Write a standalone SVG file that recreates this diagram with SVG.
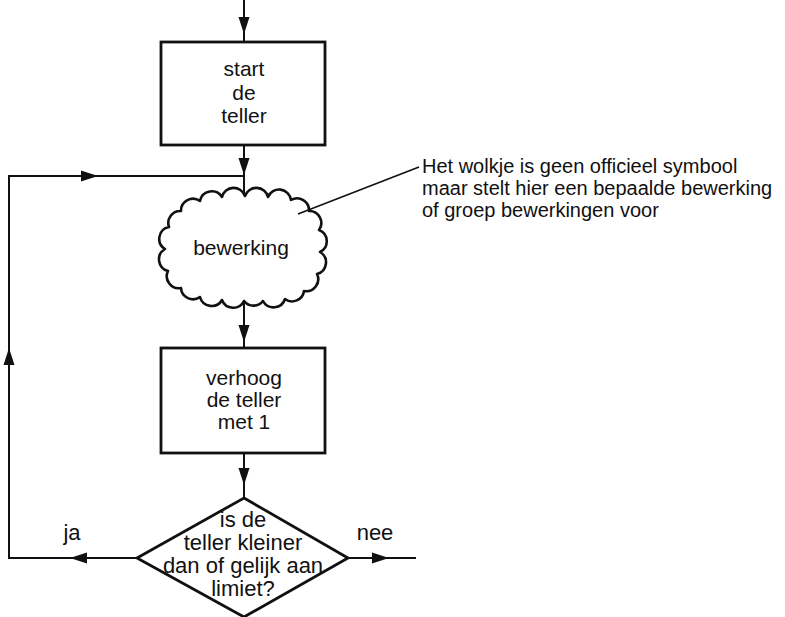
<svg xmlns="http://www.w3.org/2000/svg" xmlns:xlink="http://www.w3.org/1999/xlink" width="785" height="617" viewBox="0 0 785 617">
  <style>
    .line { stroke: #111; stroke-width: 2; fill: none; }
    .box { stroke: #111; stroke-width: 2.8; fill: #fff; }
    .cloud { stroke: #111; stroke-width: 2.6; fill: #fff; stroke-linejoin: round; }
    .txt { font-family: "Liberation Sans", Arial, sans-serif; font-size: 21px; fill: #111; text-anchor: middle; }
    .dtxt { font-family: "Liberation Sans", Arial, sans-serif; font-size: 22px; fill: #111; text-anchor: middle; }
    .note { font-family: "Liberation Sans", Arial, sans-serif; font-size: 20px; fill: #111; }
    .leader { stroke: #111; stroke-width: 1.6; fill: none; }
    .head { fill: #111; }
  </style>
  <defs>
    <!-- arrowhead pointing right, tip at the origin -->
    <path id="ah" class="head" d="M0,0 L-17,-5.5 L-17,5.5 Z"/>
  </defs>
  <rect width="785" height="617" fill="#fff"/>

  <g id="connectors">
    <!-- entry into the start box -->
    <line class="line" x1="244" y1="0" x2="244" y2="42"/>
    <use xlink:href="#ah" transform="translate(244,34) rotate(90)"/>
    <!-- start box to cloud -->
    <line class="line" x1="244" y1="145" x2="244" y2="205"/>
    <use xlink:href="#ah" transform="translate(244,175) rotate(90)"/>
    <!-- cloud to increment box -->
    <line class="line" x1="244" y1="290" x2="244" y2="348"/>
    <use xlink:href="#ah" transform="translate(244,342) rotate(90)"/>
    <!-- increment box to decision -->
    <line class="line" x1="244" y1="453" x2="244" y2="500"/>
    <use xlink:href="#ah" transform="translate(244,485) rotate(90)"/>
    <!-- loop back: ja -->
    <polyline class="line" points="137,558 9,558 9,176 244,176"/>
    <use xlink:href="#ah" transform="translate(70,558) rotate(180)"/>
    <use xlink:href="#ah" transform="translate(9,348) rotate(-90)"/>
    <use xlink:href="#ah" transform="translate(98,176)"/>
    <!-- exit: nee -->
    <line class="line" x1="348" y1="558" x2="416" y2="558"/>
    <use xlink:href="#ah" transform="translate(389,558)"/>
  </g>

  <g id="start-box">
    <rect class="box" x="161" y="42" width="164" height="103"/>
    <text class="txt" x="244" y="76">start</text>
    <text class="txt" x="244" y="100">de</text>
    <text class="txt" x="244" y="123">teller</text>
  </g>

  <g id="cloud">
    <!-- scalloped outline: arcs between cusp points, clockwise from the top -->
    <path class="cloud" d="M245,196
      A12,12 0 0 1 268,197 A12,12 0 0 1 291,200 A12,12 0 0 1 309,211
      A12,12 0 0 1 319,230 A12,12 0 0 1 320,252 A12,12 0 0 1 317,274
      A12,12 0 0 1 304,291 A12,12 0 0 1 285,299 A12,12 0 0 1 263,301
      A12,12 0 0 1 244,301 A12,12 0 0 1 222,300 A12,12 0 0 1 200,297
      A12,12 0 0 1 181,288 A12,12 0 0 1 168,271 A12,12 0 0 1 165,249
      A12,12 0 0 1 169,227 A12,12 0 0 1 181,211 A12,12 0 0 1 200,201
      A12,12 0 0 1 222,197 A12,12 0 0 1 245,196 Z"/>
    <text class="txt" x="241" y="255">bewerking</text>
  </g>

  <g id="increment-box">
    <rect class="box" x="161" y="348" width="164" height="105"/>
    <text class="txt" x="244" y="385">verhoog</text>
    <text class="txt" x="244" y="407">de teller</text>
    <text class="txt" x="244" y="429">met 1</text>
  </g>

  <g id="decision">
    <polygon class="box" points="244,498 348,558 244,617 137,558"/>
    <text class="dtxt" x="243" y="527">is de</text>
    <text class="dtxt" x="243" y="550">teller kleiner</text>
    <text class="dtxt" x="243" y="573">dan of gelijk aan</text>
    <text class="dtxt" x="243" y="596">limiet?</text>
  </g>

  <g id="labels">
    <text class="dtxt" x="72" y="540">ja</text>
    <text class="dtxt" x="375" y="540">nee</text>
  </g>

  <g id="note">
    <line class="leader" x1="298" y1="214" x2="419" y2="167"/>
    <text class="note" x="422" y="173">Het wolkje is geen officieel symbool</text>
    <text class="note" x="422" y="195">maar stelt hier een bepaalde bewerking</text>
    <text class="note" x="422" y="217">of groep bewerkingen voor</text>
  </g>
</svg>
